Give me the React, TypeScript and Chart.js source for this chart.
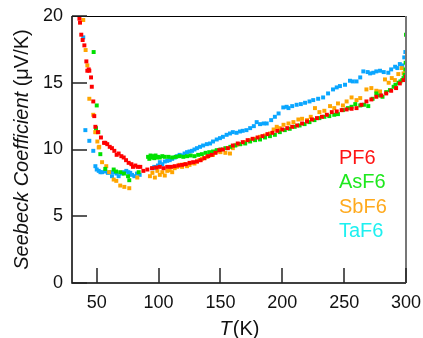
import React, { useEffect, useRef } from "react";
import { Chart, registerables } from "chart.js";

Chart.register(...registerables);

const X_TICKS = [50, 100, 150, 200, 250, 300];
const Y_TICKS = [0, 5, 10, 15, 20];
const SERIES_NAMES = ["PF6", "AsF6", "SbF6", "TaF6"];

const PF6: number[][] = [
  [36, 19.8], [36.5, 19.5], [37.5, 18.6], [38.6, 18.2], [40, 17.8], [41.6, 16.6], [42.4, 15.9], [43.5, 16], [44, 15.9],
  [45.4, 15.4], [46, 14.7], [47.2, 13.6], [48, 12.5], [48.9, 11.7], [51, 11.3], [53.4, 10.9], [55.9, 10.5], [56.9, 10.5],
  [58.5, 10.4], [60.5, 10.2], [62.3, 10.1], [64.2, 9.9], [66.1, 9.6], [67.7, 9.7], [69.9, 9.5], [71.8, 9.4], [73.7, 9.2],
  [75.8, 9.0], [78, 8.9], [79.3, 8.7], [81.2, 8.8], [83.1, 8.7], [85.2, 8.7], [87.7, 8.4], [90.9, 8.5], [94.7, 8.6],
  [98, 8.65], [101, 8.7], [104, 8.6], [107, 8.7], [110, 8.7], [113, 8.75], [116, 8.8], [119, 8.85], [122, 8.9], [125, 9.0],
  [128, 9.05], [131, 9.1], [134, 9.2], [137, 9.35], [140, 9.5], [143, 9.6], [146, 9.75], [149, 9.95], [152, 10.0],
  [156, 10.1], [160, 10.3], [164, 10.45], [168, 10.55], [172, 10.7], [176, 10.8], [180, 10.9], [184, 11.0], [188, 11.15],
  [192, 11.25], [196, 11.4], [200, 11.5], [204, 11.6], [208, 11.7], [212, 11.8], [216, 11.95], [220, 12.1], [224, 12.25],
  [228, 12.35], [232, 12.45], [236, 12.6], [240, 12.8], [244, 12.85], [248, 12.95], [252, 13.0], [256, 13.05], [260, 13.1],
  [264, 13.35], [268, 13.6], [272, 13.75], [276, 13.95], [280, 14.05], [284, 14.2], [288, 14.4], [292, 14.6], [295, 14.95],
  [298, 15.2], [300, 15.45],
];

const AsF6: number[][] = [
  [47.5, 17.3], [50, 13.3], [49.4, 11.6], [51.3, 11.3], [52.9, 9.65], [56.9, 8.55], [63.7, 8.5], [65.6, 8.35], [69, 8.3],
  [72, 8.2], [75.3, 8.0], [76.3, 7.7], [83.9, 8.3], [91.5, 9.45], [92.5, 9.3], [93.5, 9.55], [94.5, 9.4], [95.5, 9.5],
  [96.5, 9.35], [97.5, 9.55], [98.5, 9.4], [99.5, 9.45], [101, 9.4], [103, 9.5], [105, 9.45], [108, 9.45], [111, 9.4],
  [114, 9.45], [117, 9.5], [120, 9.45], [123, 9.5], [126, 9.55], [129, 9.5], [132, 9.6], [135, 9.65], [138, 9.75],
  [141, 9.8], [144, 9.85], [147, 9.95], [150, 10.0], [154, 10.1], [158, 10.2], [162, 10.3], [166, 10.4], [170, 10.45],
  [174, 10.6], [178, 10.7], [182, 10.75], [186, 10.9], [190, 11.0], [194, 11.1], [198, 11.3], [202, 11.45], [206, 11.55],
  [210, 11.7], [214, 11.8], [218, 11.9], [222, 12.05], [226, 12.2], [230, 12.35], [234, 12.45], [238, 12.5], [242, 12.6],
  [245, 12.65], [249, 12.95], [253, 13.1], [256, 13.2], [259, 13.4], [263, 13.3], [266, 13.35], [269.5, 13.25], [273, 13.8],
  [276, 14.2], [279, 14.05], [281, 13.95], [284, 14.3], [287, 14.45], [290, 14.7], [291.5, 14.85], [294, 15.0],
  [295.5, 15.1], [297, 15.2], [298, 15.35], [299, 15.6], [299.5, 16.0], [299.7, 16.5], [300, 18.6],
];

const SbF6: number[][] = [
  [39.1, 19.7], [41, 17.45], [42.4, 16.3], [44, 13.8], [47.2, 12.6], [48.9, 11.3], [49.1, 11.3], [50.5, 10.6],
  [51.6, 10.15], [52, 10.2], [54.3, 9.05], [57.7, 8.75], [60, 8.3], [63.7, 7.75], [65.8, 7.65], [69, 7.3], [72.3, 7.2],
  [76.3, 7.1], [82.8, 7.9], [93, 8.0], [95, 8.25], [97, 7.9], [99, 8.4], [101, 8.1], [103, 8.3], [105, 8.05], [107, 8.4],
  [109, 8.45], [111, 8.3], [113, 8.6], [115, 8.7], [117, 8.85], [119, 8.7], [121, 8.9], [123, 8.75], [125, 8.85],
  [127, 9.0], [129, 8.95], [131, 9.1], [133, 9.2], [135, 9.3], [137, 9.35], [139, 9.45], [141, 9.55], [144, 9.6],
  [147, 9.85], [150, 9.8], [154, 9.75], [157.7, 9.7], [160, 10.1], [163, 10.35], [166, 10.4], [170, 10.55], [174, 10.7],
  [178, 10.8], [182, 10.95], [186, 11.05], [190, 11.2], [193, 11.5], [195.5, 11.7], [198, 11.6], [201, 11.85], [205, 11.95],
  [209, 12.05], [213, 12.25], [216, 12.3], [220, 12.2], [223, 12.45], [226.4, 13.1], [230, 12.8], [234, 12.9],
  [238.6, 13.25], [242, 13.1], [245, 13.45], [249, 13.3], [252, 13.6], [256, 13.9], [260, 13.7], [263, 13.85], [268, 14.5],
  [272, 14.6], [276, 14.4], [279, 14.35], [283, 15.25], [286, 15.0], [288.5, 15.35], [291, 15.2], [293.8, 15.65],
  [296.5, 16.1], [298, 15.7], [299.5, 15.85],
];

const TaF6: number[][] = [
  [39.1, 18.4], [40.8, 11.45], [44, 10.65], [47.2, 9.9], [48.9, 8.75], [50, 8.5], [51.6, 8.4], [53, 8.3], [54.3, 8.3],
  [56.9, 8.35], [59, 8.25], [61, 8.3], [62.3, 8.0], [64, 8.3], [66, 8.2], [67.7, 8.0], [70.4, 8.2], [72, 8.3], [73.9, 8.4],
  [75.5, 8.3], [77.1, 8.25], [78.5, 8.1], [80.4, 8.0], [82.5, 8.2], [84.7, 8.1], [95, 8.6], [96.5, 8.7], [98, 8.6],
  [99.5, 8.8], [101, 9.05], [103, 8.9], [105, 9.1], [107, 9.15], [109, 9.2], [111, 9.3], [113, 9.4], [115, 9.5], [117, 9.6],
  [119, 9.55], [121, 9.7], [123, 9.8], [125, 9.85], [127, 9.9], [129, 10.0], [131, 10.1], [133.5, 10.2], [136, 10.3],
  [139, 10.4], [141.6, 10.45], [144, 10.6], [147, 10.75], [149.6, 10.85], [152, 10.95], [155, 11.1], [157.7, 11.2],
  [160, 11.3], [163, 11.25], [165.8, 11.35], [168, 11.4], [171, 11.45], [174, 11.6], [177, 11.75], [179.3, 12.05],
  [182, 11.9], [185, 11.95], [187.4, 11.95], [191, 12.2], [194, 12.45], [197, 12.7], [200.8, 13.15], [203.5, 13.2],
  [205, 13.1], [208, 13.25], [211.6, 13.35], [215, 13.4], [218.4, 13.5], [222, 13.6], [225, 13.7], [229, 13.8], [233, 13.9],
  [237, 14.2], [241, 14.5], [244, 14.65], [246.6, 14.75], [250.7, 14.85], [254.7, 15.15], [257, 15.1], [260, 15.1],
  [263, 15.4], [265.5, 15.85], [269, 15.8], [271, 15.7], [273.6, 15.75], [276, 15.85], [279, 15.9], [282, 15.8],
  [285.7, 15.75], [288, 16.0], [291.2, 16.2], [293, 16.1], [295, 16.4], [297, 16.3], [298.6, 16.9], [299.5, 17.3],
];

const SERIES = [PF6, AsF6, SbF6, TaF6];
const POINT_COLORS = ["#ff0000", "#00e000", "#ffa500", "#0aa6ff"];
const LEGEND_COLORS = ["#ff1414", "#1ee81e", "#ffaa1e", "#1ef0f0"];

const FONT = "'Liberation Sans', Arial, Helvetica, sans-serif";

const framePlugin = {
  id: "frame",
  afterDatasetsDraw(chart: any) {
    const { ctx, chartArea } = chart;
    const { left, right, top, bottom } = chartArea;
    const xs = chart.scales.x;
    const ys = chart.scales.y;
    ctx.save();
    // frame
    ctx.strokeStyle = "#000";
    ctx.lineWidth = 1;
    ctx.beginPath();
    ctx.moveTo(left, top + 0.5);
    ctx.lineTo(right, top + 0.5);
    ctx.stroke();
    ctx.lineWidth = 1.5;
    ctx.beginPath();
    ctx.moveTo(left, top);
    ctx.lineTo(left, bottom);
    ctx.lineTo(right, bottom);
    ctx.stroke();
    ctx.strokeStyle = "#777";
    ctx.lineWidth = 2;
    ctx.beginPath();
    ctx.moveTo(right, top);
    ctx.lineTo(right, bottom);
    ctx.stroke();
    // inward ticks
    ctx.strokeStyle = "#222";
    ctx.lineWidth = 1.5;
    X_TICKS.forEach((v) => {
      const px = Math.round(xs.getPixelForValue(v));
      ctx.beginPath();
      ctx.moveTo(px, bottom);
      ctx.lineTo(px, bottom - 15);
      ctx.stroke();
    });
    Y_TICKS.forEach((v) => {
      const py = Math.round(ys.getPixelForValue(v));
      ctx.beginPath();
      ctx.moveTo(left, py);
      ctx.lineTo(left + 15, py);
      ctx.stroke();
    });
    // legend text
    ctx.font = `20px ${FONT}`;
    ctx.textAlign = "left";
    ctx.textBaseline = "alphabetic";
    SERIES_NAMES.forEach((name, i) => {
      ctx.fillStyle = LEGEND_COLORS[i];
      ctx.fillText(name, 339, 164 + i * 24.3);
    });
    // y title
    ctx.fillStyle = "#111";
    ctx.textBaseline = "middle";
    const it = "Seebeck Coefficient ";
    const nm = "(\u03bcV/K)";
    ctx.font = `italic 20px ${FONT}`;
    const w1 = ctx.measureText(it).width;
    ctx.font = `20px ${FONT}`;
    const w2 = ctx.measureText(nm).width;
    ctx.translate(22, (top + bottom) / 2);
    ctx.rotate(-Math.PI / 2);
    const start = -(w1 + w2) / 2;
    ctx.font = `italic 20px ${FONT}`;
    ctx.fillText(it, start, 0);
    ctx.font = `20px ${FONT}`;
    ctx.fillText(nm, start + w1, 0);
    ctx.setTransform(chart.currentDevicePixelRatio, 0, 0, chart.currentDevicePixelRatio, 0, 0);
    // x title
    ctx.font = `italic 20px ${FONT}`;
    const t1 = "T";
    const tw1 = ctx.measureText(t1).width;
    ctx.font = `20px ${FONT}`;
    const t2 = "(K)";
    const tw2 = ctx.measureText(t2).width;
    const cx = (left + right) / 2;
    const sx = cx - (tw1 + tw2) / 2;
    ctx.textBaseline = "alphabetic";
    ctx.font = `italic 20px ${FONT}`;
    ctx.fillText(t1, sx, 335);
    ctx.font = `20px ${FONT}`;
    ctx.fillText(t2, sx + tw1 + 1, 335);
    ctx.restore();
  },
};

export default function App() {
  const ref = useRef<HTMLCanvasElement | null>(null);
  useEffect(() => {
    if (!ref.current) return;
    const chart = new Chart(ref.current, {
      type: "scatter",
      data: {
        datasets: SERIES.map((s, i) => ({
          label: SERIES_NAMES[i],
          data: s.map(([x, y]) => ({ x, y })),
          backgroundColor: POINT_COLORS[i],
          borderWidth: 0,
          pointStyle: "rect",
          pointRadius: 2.8,
          pointHoverRadius: 2.8,
        })),
      },
      options: {
        animation: false,
        responsive: true,
        maintainAspectRatio: false,
        layout: { padding: { left: 0, top: 16, right: 17, bottom: 0 } },
        plugins: { legend: { display: false }, tooltip: { enabled: false } },
        scales: {
          x: {
            type: "linear",
            min: 30,
            max: 300,
            grid: { display: false, drawTicks: false },
            border: { display: false },
            afterBuildTicks: (s: any) => {
              s.ticks = X_TICKS.map((v) => ({ value: v }));
            },
            afterFit: (s: any) => {
              s.height = 55;
              s.paddingLeft = 0;
              s.paddingRight = 0;
              s.paddingTop = 0;
              s.paddingBottom = 0;
            },
            ticks: {
              padding: 9,
              color: "#111",
              font: { family: FONT, size: 18 },
              maxRotation: 0,
            },
          },
          y: {
            type: "linear",
            min: 0,
            max: 20,
            grid: { display: false, drawTicks: false },
            border: { display: false },
            afterBuildTicks: (s: any) => {
              s.ticks = Y_TICKS.map((v) => ({ value: v }));
            },
            afterFit: (s: any) => {
              s.width = 72;
              s.paddingLeft = 0;
              s.paddingRight = 0;
              s.paddingTop = 0;
              s.paddingBottom = 0;
            },
            ticks: {
              padding: 9,
              color: "#111",
              font: { family: FONT, size: 18 },
            },
          },
        },
      },
      plugins: [framePlugin],
    });
    return () => chart.destroy();
  }, []);
  return (
    <div style={{ position: "fixed", left: 0, top: 0, width: 423, height: 338, background: "#fff" }}>
      <canvas ref={ref} />
    </div>
  );
}
